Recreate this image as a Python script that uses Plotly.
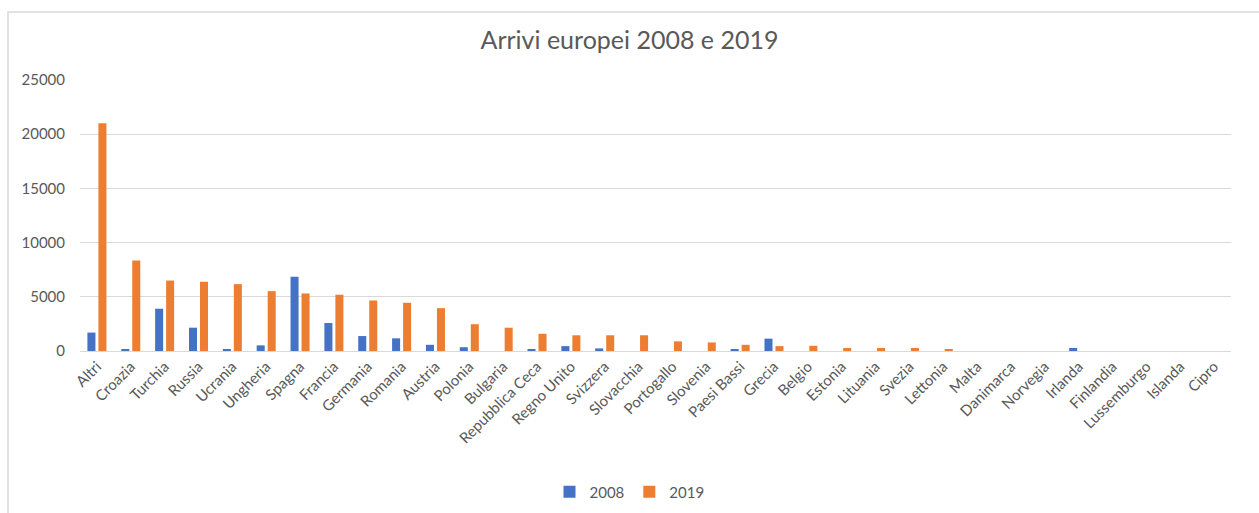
import plotly.graph_objects as go

categories = ["Altri", "Croazia", "Turchia", "Russia", "Ucrania", "Ungheria", "Spagna", "Francia",
              "Germania", "Romania", "Austria", "Polonia", "Bulgaria", "Repubblica Ceca", "Regno Unito",
              "Svizzera", "Slovacchia", "Portogallo", "Slovenia", "Paesi Bassi", "Grecia", "Belgio",
              "Estonia", "Lituania", "Svezia", "Lettonia", "Malta", "Danimarca", "Norvegia", "Irlanda",
              "Finlandia", "Lussemburgo", "Islanda", "Cipro"]

values_2008 = [1700, 150, 3900, 2150, 150, 520, 6850, 2580, 1380, 1170, 570, 350, 0, 120, 450,
               240, 0, 0, 0, 130, 1140, 0, 0, 0, 0, 0, 0, 0, 0, 280, 0, 0, 0, 0]
values_2019 = [21000, 8350, 6500, 6390, 6170, 5520, 5310, 5190, 4660, 4450, 3950, 2470, 2150, 1590,
               1450, 1450, 1450, 890, 790, 570, 450, 480, 280, 280, 280, 160, 0, 0, 0, 0, 0, 0,
               0, 0]

series_names = ["2008", "2019"]
colors = ["#4472C4", "#ED7D31"]
y_ticks = [0, 5000, 10000, 15000, 20000, 25000]
title_text = "Arrivi europei 2008 e 2019"

font_family = "Lato, 'Open Sans', sans-serif"
gray = "#595959"

fig = go.Figure()
for name, vals, col in zip(series_names, [values_2008, values_2019], colors):
    fig.add_trace(go.Bar(x=categories, y=vals, name=name, marker_color=col,
                         marker_line_width=0))

W, H = 1259, 513
L, R, T, B = 80, 28, 80, 162
pw, ph = W - L - R, H - T - B

fig.update_layout(
    width=W, height=H,
    margin=dict(l=L, r=R, t=T, b=B, pad=0, autoexpand=False),
    paper_bgcolor="white", plot_bgcolor="white",
    font=dict(family=font_family, color=gray, size=15),
    title=dict(text=title_text, x=0.5, xanchor="center", xref="container",
               y=1 - 40 / H, yanchor="middle", yref="container",
               font=dict(size=25, color=gray, family=font_family)),
    barmode="group", bargap=0.35, bargroupgap=0.27,
    showlegend=True,
    legend=dict(orientation="h", x=0.5, xanchor="center", xref="container",
                y=1 - 492 / H, yanchor="middle", yref="container",
                font=dict(size=15, color=gray), itemwidth=30,
                traceorder="normal"),
    xaxis=dict(tickangle=-45, showgrid=False, showline=True, linecolor="#D9D9D9",
               linewidth=1, ticks="", automargin=False,
               tickfont=dict(size=15, color=gray)),
    yaxis=dict(range=[0, 25000], tickvals=y_ticks, ticktext=[str(v) for v in y_ticks],
               showgrid=True, gridcolor="#D9D9D9", gridwidth=1, zeroline=False,
               showline=False, ticks="", ticklabelstandoff=14, automargin=False,
               tickfont=dict(size=15, color=gray)),
)

# outer chart frame (light gray border)
x0p = (8 - L) / pw
y1p = (H - B - 12) / ph
fig.add_shape(type="rect", xref="paper", yref="paper",
              x0=x0p, x1=(W + 20 - L) / pw, y0=-(B + 20) / ph, y1=y1p,
              line=dict(color="#D9D9D9", width=1.5), fillcolor="rgba(0,0,0,0)", layer="below")

fig.write_html("out.html")
